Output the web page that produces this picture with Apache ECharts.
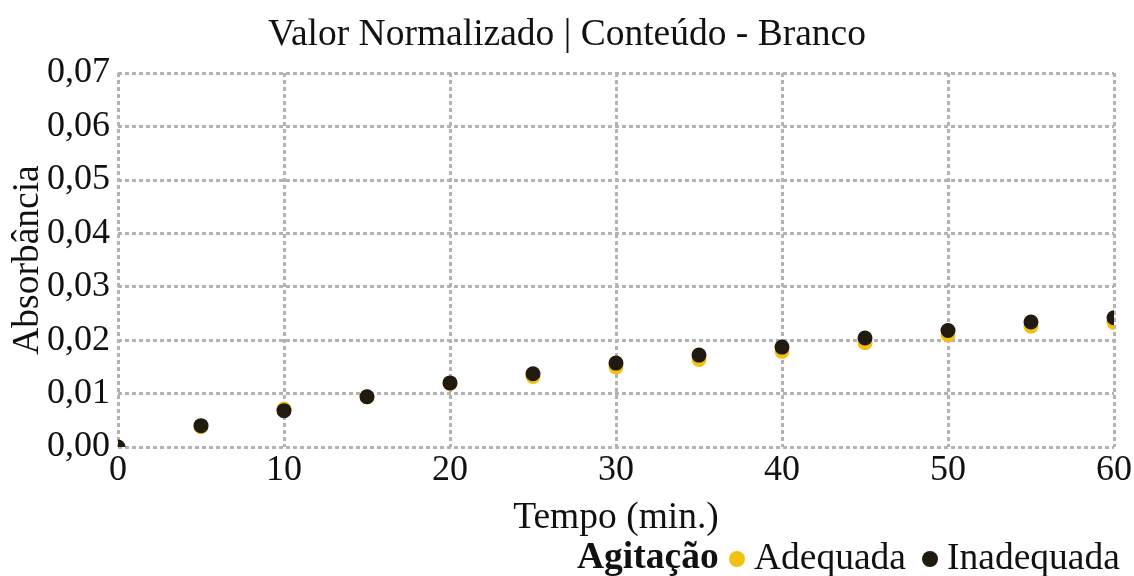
<!DOCTYPE html>
<html><head><meta charset="utf-8">
<script src="https://cdn.jsdelivr.net/npm/echarts@6/dist/echarts.min.js"></script>
<style>html,body{margin:0;padding:0;background:#fff}#c{width:1134px;height:576px}</style>
</head><body><div id="c"></div>
<script>
const tempo = [0, 5, 10, 15, 20, 25, 30, 35, 40, 45, 50, 55, 60];
const adequada = [0, 0.0038, 0.0071, 0.0094, 0.0119, 0.0132, 0.0150, 0.0164, 0.0179, 0.0195, 0.0210, 0.0226, 0.0233];
const inadequada = [0, 0.0040, 0.0068, 0.0094, 0.0120, 0.0137, 0.0157, 0.0172, 0.0187, 0.0204, 0.0218, 0.0234, 0.0242];
const seriesNames = ['Adequada', 'Inadequada'];
const titleText = 'Valor Normalizado | Conteúdo - Branco';
const legendTitle = 'Agitação';

const font = 'Liberation Serif, Times New Roman, serif';
const gridLine = {show: true, lineStyle: {color: '#b3b3b3', width: 3, type: [4, 3]}};
const dot = function (params, api) {
  const p = api.coord([api.value(0), api.value(1)]);
  return {type: 'circle', shape: {cx: p[0], cy: p[1], r: 7.5}, style: {fill: api.visual('color')}};
};
const chart = echarts.init(document.getElementById('c'));
chart.setOption({
  animation: false,
  backgroundColor: '#fff',
  title: [
    {text: titleText, left: 'center', top: 11, textStyle: {fontFamily: font, fontSize: 37.5, fontWeight: 'normal', color: '#111'}},
    {text: legendTitle, left: 577, top: 539, padding: 0, textStyle: {fontFamily: font, fontSize: 37.5, fontWeight: 'bold', color: '#111'}}
  ],
  legend: {
    data: seriesNames, left: 729, top: 540, padding: 0, icon: 'circle', itemWidth: 16, itemHeight: 16, itemGap: 16,
    textStyle: {fontFamily: font, fontSize: 37.5, color: '#111', padding: [0, 0, 0, 4]}
  },
  grid: {left: 118, right: 20, top: 73, bottom: 129, containLabel: false, outerBoundsMode: 'none'},
  xAxis: {
    type: 'value', min: 0, max: 60, interval: 10,
    name: 'Tempo (min.)', nameLocation: 'middle', nameGap: 52, nameMoveOverlap: false,
    nameTextStyle: {fontFamily: font, fontSize: 37.5, color: '#111'},
    axisLine: {show: false}, axisTick: {show: false},
    axisLabel: {fontFamily: font, fontSize: 36, color: '#111', margin: 6},
    splitLine: gridLine
  },
  yAxis: {
    type: 'value', min: 0, max: 0.07, interval: 0.01,
    name: 'Absorbância', nameLocation: 'middle', nameGap: 90, nameMoveOverlap: false,
    nameTextStyle: {fontFamily: font, fontSize: 37.5, color: '#111', verticalAlign: 'middle'},
    axisLine: {show: false}, axisTick: {show: false},
    axisLabel: {fontFamily: font, fontSize: 36, color: '#111', margin: 8,
      formatter: v => v.toFixed(2).replace('.', ',')},
    splitLine: gridLine
  },
  series: [
    {name: seriesNames[0], type: 'custom', clip: true, renderItem: dot,
     itemStyle: {color: '#F2C011'},
     data: tempo.map((t, i) => [t, adequada[i]])},
    {name: seriesNames[1], type: 'custom', clip: true, renderItem: dot,
     itemStyle: {color: '#201a10'},
     data: tempo.map((t, i) => [t, inadequada[i]])}
  ]
});
</script></body></html>
